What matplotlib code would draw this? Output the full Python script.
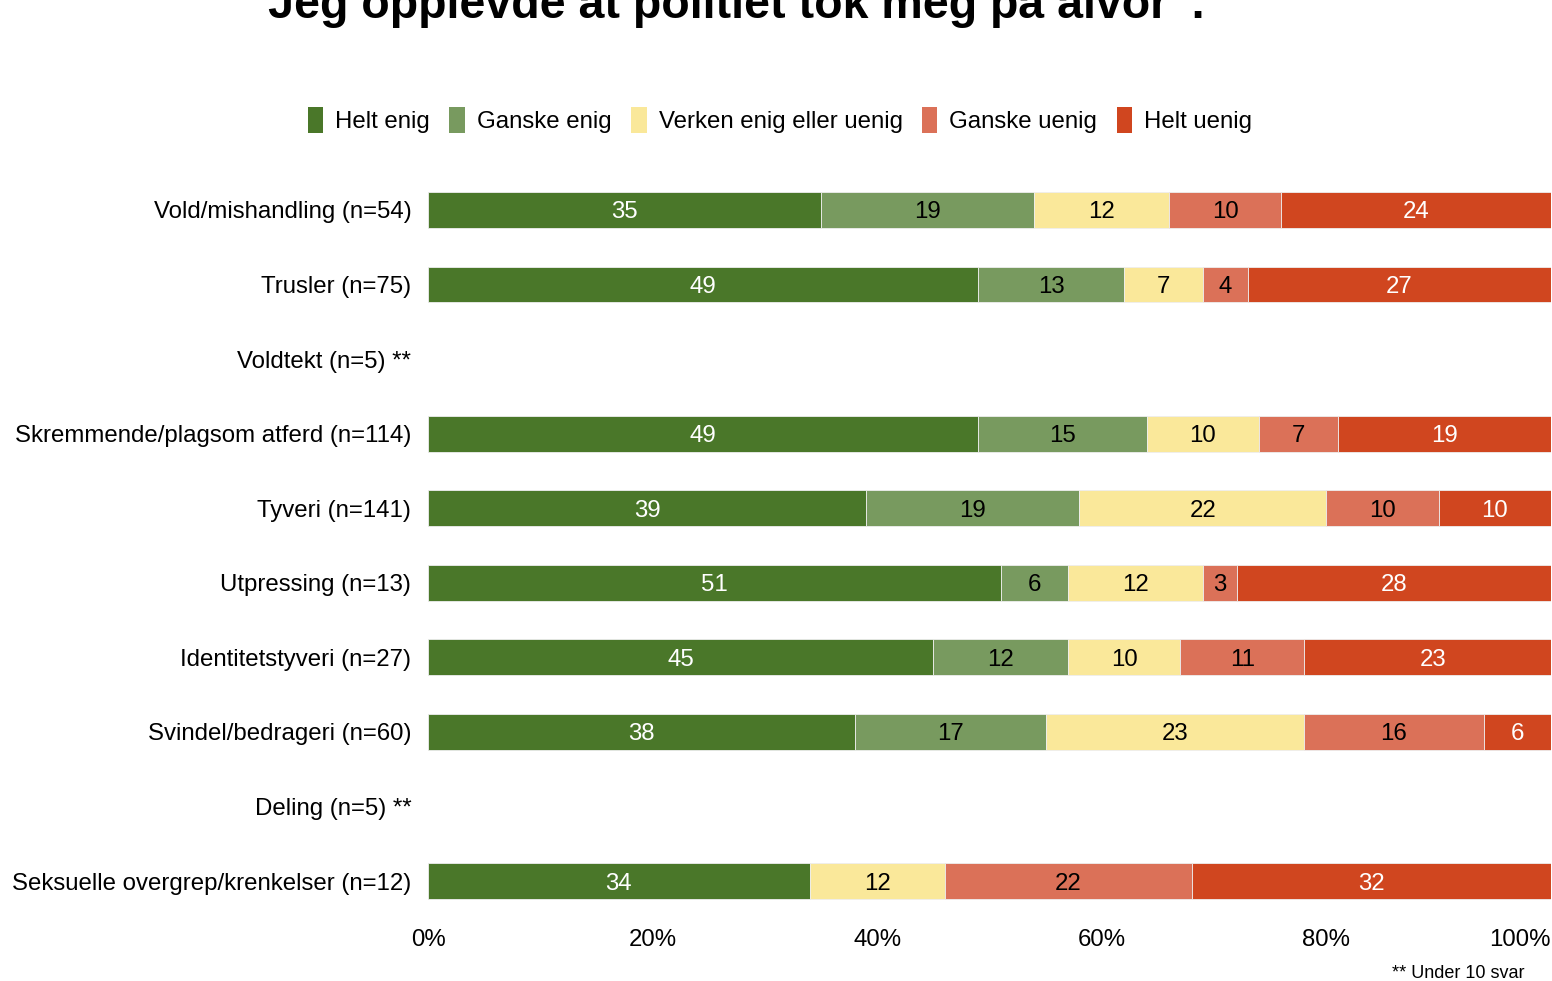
import matplotlib
matplotlib.use("Agg")
import matplotlib.pyplot as plt
from matplotlib.patches import Patch

plt.rcParams['font.family'] = ['Liberation Sans', 'DejaVu Sans']

categories = [
    "Vold/mishandling (n=54)",
    "Trusler (n=75)",
    "Voldtekt (n=5) **",
    "Skremmende/plagsom atferd (n=114)",
    "Tyveri (n=141)",
    "Utpressing (n=13)",
    "Identitetstyveri (n=27)",
    "Svindel/bedrageri (n=60)",
    "Deling (n=5) **",
    "Seksuelle overgrep/krenkelser (n=12)",
]
series_names = ["Helt enig", "Ganske enig", "Verken enig eller uenig", "Ganske uenig", "Helt uenig"]
helt_enig    = [35, 49, 0, 49, 39, 51, 45, 38, 0, 34]
ganske_enig  = [19, 13, 0, 15, 19, 6, 12, 17, 0, 0]
verken       = [12, 7, 0, 10, 22, 12, 10, 23, 0, 12]
ganske_uenig = [10, 4, 0, 7, 10, 3, 11, 16, 0, 22]
helt_uenig   = [24, 27, 0, 19, 10, 28, 23, 6, 0, 32]
series = [helt_enig, ganske_enig, verken, ganske_uenig, helt_uenig]
colors = ["#4a7729", "#789a5f", "#fae89a", "#db7158", "#d0461f"]
text_colors = ["white", "black", "black", "black", "white"]
xticks = [0, 20, 40, 60, 80, 100]
xticklabels = ["0%", "20%", "40%", "60%", "80%", "100%"]

W, H = 1552, 981
fig = plt.figure(figsize=(W / 100, H / 100), dpi=100)
ax = fig.add_axes([428 / W, 1 - 918.3 / H, (1551 - 428) / W, 745.6 / H])

FS = 17.3
y = list(range(len(categories)))
left = [0] * len(categories)
for vals, col, tcol in zip(series, colors, text_colors):
    lws = [0.6 if v > 0 else 0 for v in vals]
    ax.barh(y, vals, left=left, height=0.48, color=col, edgecolor="#eeeeee", linewidth=lws)
    for yi, (l, v) in enumerate(zip(left, vals)):
        if v > 0:
            ax.text(l + v / 2, yi, str(v), ha="center", va="center_baseline", color=tcol, fontsize=FS)
    left = [a + b for a, b in zip(left, vals)]

ax.set_xlim(0, 100)
ax.set_ylim(len(categories) - 0.5, -0.5)
ax.set_yticks(y)
ax.set_yticklabels(categories, fontsize=FS)
ax.set_xticks(xticks)
ax.set_xticklabels(xticklabels, fontsize=FS)
ax.get_xticklabels()[-1].set_ha("right")
ax.tick_params(axis="both", length=0)
ax.tick_params(axis="y", pad=12)
ax.tick_params(axis="x", pad=8)
for s in ax.spines.values():
    s.set_visible(False)

handles = [Patch(facecolor=c, edgecolor="none") for c in colors]
fig.legend(handles, series_names, loc="center", bbox_to_anchor=(780 / W, 1 - 120 / H),
           ncol=5, frameon=False, fontsize=FS, handlelength=0.65, handleheight=1.3,
           handletextpad=0.5, columnspacing=0.8)

fig.text(725 / W, 1 - 17.5 / H, "\u201cJeg opplevde at politiet tok meg på alvor\u201d.", ha="center",
         va="baseline", fontsize=33.5, fontweight="bold")
fig.text(1525 / W, 1 - 973 / H, "** Under 10 svar", ha="right", va="center", fontsize=13)

fig.savefig("out.png", dpi=100)
